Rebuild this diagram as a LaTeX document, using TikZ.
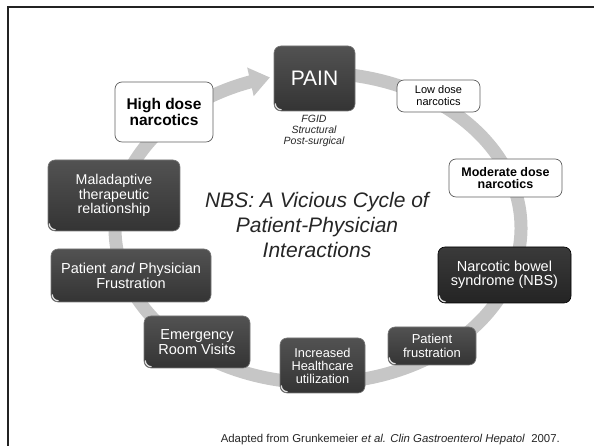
\documentclass[tikz,border=0pt]{standalone}
\usepackage{fontspec}
\setmainfont{Liberation Sans}
\usetikzlibrary{arrows.meta,bending}

\definecolor{ringgray}{RGB}{198,198,198}
\definecolor{darktop}{RGB}{82,82,82}
\definecolor{darkbottom}{RGB}{52,52,52}
\definecolor{darkedge}{RGB}{120,120,120}
\definecolor{nbstop}{RGB}{58,58,58}
\definecolor{nbsbottom}{RGB}{36,36,36}
\definecolor{lightedge}{RGB}{95,95,95}
\definecolor{framecol}{RGB}{35,35,35}
\definecolor{glint}{RGB}{225,225,225}

\newcommand{\fs}[2]{\fontsize{#1}{#2}\selectfont}

\tikzset{
  darkbox/.style={draw=darkedge, line width=0.6pt, rounded corners=7pt,
    top color=darktop, bottom color=darkbottom, text=white,
    align=center, inner sep=0pt,
    % small glossy highlight in the lower left corner
    path picture={\draw[glint, line width=1.3pt]
      ([xshift=1.2pt,yshift=7.5pt]path picture bounding box.south west)
      arc[start angle=180, end angle=270, radius=6.3pt];}},
  nbsbox/.style={darkbox, draw=black, top color=nbstop, bottom color=nbsbottom},
  lightbox/.style={draw=lightedge, line width=0.7pt, rounded corners=7pt,
    fill=white, text=black, align=center, inner sep=0pt},
  cycle ring/.style={ringgray, line width=13pt,
    -{Triangle[width=28pt,length=20pt,flex]}}
}

\begin{document}
\begin{tikzpicture}[x=1pt,y=1pt]
\useasboundingbox (0,0) rectangle (594,446);

% slide frame
\draw[framecol, line width=2.2pt] (8,0) -- (8,439) -- (594,439);

% the cycle arrow running clockwise round the boxes, ending at PAIN
\coordinate (ringc) at (318,218);
\draw[cycle ring] (ringc) ++(85:203 and 155)
  arc[start angle=85, end angle=-256.3, x radius=203, y radius=155];

% stages of the cycle
\node[darkbox, minimum width=81, minimum height=65, font=\fs{21}{22}]
  (pain) at (314.5,367.5) {PAIN};
\node[lightbox, minimum width=83, minimum height=32, font=\fs{11}{12}]
  (low) at (438.5,350) {Low dose\\narcotics};
\node[lightbox, minimum width=113, minimum height=38, font=\fs{12.5}{12.5}\bfseries]
  (moderate) at (505.5,268) {Moderate dose\\narcotics};
\node[nbsbox, minimum width=133, minimum height=56, font=\fs{14.5}{14.5}]
  (nbs) at (504.5,171) {Narcotic bowel\\syndrome (NBS)};
\node[darkbox, minimum width=88, minimum height=38, font=\fs{13}{14}]
  (pfrust) at (432,100) {Patient\\frustration};
\node[darkbox, minimum width=85, minimum height=55, font=\fs{12.8}{13}]
  (health) at (322.5,80.5) {Increased\\Healthcare\\utilization};
\node[darkbox, minimum width=106, minimum height=52, font=\fs{14.5}{15}]
  (er) at (197,104) {Emergency\\Room Visits};
\node[darkbox, minimum width=160, minimum height=53, font=\fs{14.5}{15}]
  (both) at (131,170.5) {Patient \textit{and} Physician\\Frustration};
\node[darkbox, minimum width=132, minimum height=71, font=\fs{14.2}{14.5}]
  (maladapt) at (114,250.5) {Maladaptive\\therapeutic\\relationship};
\node[lightbox, minimum width=98, minimum height=60, font=\fs{15.5}{16.5}\bfseries]
  (high) at (164,334) {High dose\\narcotics};

% causes of pain
\node[align=center, text=black!85, inner sep=0pt, font=\fs{10.5}{11}\itshape]
  (causes) at (314,315) {FGID\\Structural\\Post-surgical};

% central title
\node[align=center, text=black!85, inner sep=0pt, font=\fs{21}{25}\itshape]
  (title) at (317,221) {NBS: A Vicious Cycle of\\Patient-Physician\\Interactions};

% source line
\node[anchor=base east, inner sep=0pt, text=black!85, font=\fs{11.4}{12}]
  (source) at (560,3)
  {Adapted from Grunkemeier \textit{et al. Clin Gastroenterol Hepatol}\ \ 2007.};
\end{tikzpicture}
\end{document}
